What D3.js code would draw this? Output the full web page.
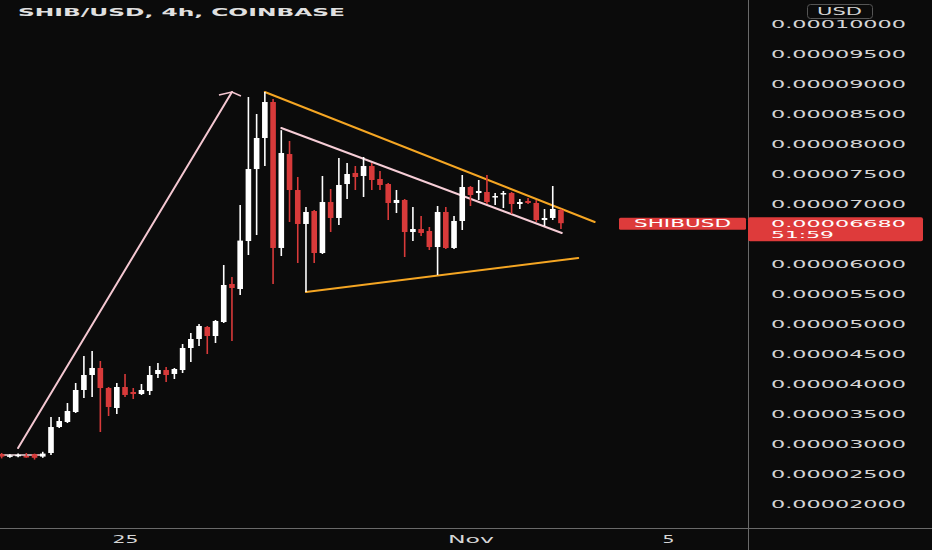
<!DOCTYPE html>
<html><head><meta charset="utf-8">
<script src="https://cdn.jsdelivr.net/npm/d3@7"></script>
<style>html,body{margin:0;padding:0;background:#0b0b0b;overflow:hidden}</style>
</head><body><svg id="c" width="932" height="550"></svg>
<script>
// ---- DATA (prices in units of 1e-8 USD) ----
const UNIT = 1e-8;
const firstCandle = Date.UTC(2021, 9, 22, 12); // Oct 22 12:00 UTC, 4h candles
const STEP = 4 * 3600 * 1000;
const opens  = [2830,2790,2810,2800,2830,2790,
  2850,3283,3367,3533,3900,4150,4267,3933,3600,3950,3867,3833,3883,4167,4233,4167,4233,4600,4750,4950,4800,5033,5667,5583,6383,7583,8100,8700,
  6267,7833,7233,6667,6883,6183,7033,6767,7333,7517,7467,7633,7417,7333,7017,7067,6533,6583,6550,6283,6867,6267,6717,7283,7183,7200,7117,7167,7183,7000,7050,7017,6733,6767,6900];
const highs  = [2850,2830,2840,2850,2840,2870,
  3450,3450,3683,4017,4467,4550,4383,3950,4017,4167,3933,4000,4300,4350,4283,4267,4667,4850,5000,4967,5067,5983,5783,6983,8783,8500,8867,8750,
  8230,8050,7450,6950,6900,7467,7250,7767,7683,7633,7783,7683,7550,7350,7233,7083,6950,6800,6617,6967,6950,6800,7483,7300,7400,7483,7183,7217,7200,7083,7100,7067,6917,7300,6917];
const lows   = [2760,2770,2780,2770,2740,2770,
  2817,3267,3350,3517,3767,3783,3200,3467,3500,3783,3750,3817,3817,4100,4033,4083,4183,4367,4633,4500,4683,5017,4717,5483,6150,6483,7633,5667,
  6133,6700,6017,5533,6017,6167,6533,6650,7083,7233,7117,7233,7233,6733,6850,6117,6383,6467,6233,5817,6250,6250,6567,6967,7067,7000,6983,6933,6833,6917,7000,6700,6633,6733,6583];
const closes = [2790,2810,2820,2780,2770,2840,
  3283,3383,3550,3900,4150,4267,3933,3617,3950,3817,3833,3900,4150,4233,4150,4250,4600,4750,4967,4800,5050,5650,5600,6390,7583,8100,8700,6267,
  7850,7233,6667,6867,6183,7033,6767,7317,7500,7450,7633,7400,7317,7017,7067,6533,6583,6517,6283,6867,6267,6717,7283,7150,7217,7033,7133,7183,7000,7033,7017,6733,6767,6917,6680];
const candleUp = [false,true,true,false,false,true];  // small leading candles' colour

// visible price-axis labels (0.00006500 is hidden under the last-price badge)
const priceTickLabels = ["0.00010000","0.00009500","0.00009000","0.00008500","0.00008000","0.00007500",
  "0.00007000","0.00006000","0.00005500","0.00005000","0.00004500","0.00004000",
  "0.00003500","0.00003000","0.00002500","0.00002000"];
const timeTickDates  = [Date.UTC(2021,9,25), Date.UTC(2021,10,1), Date.UTC(2021,10,5)];
const timeTickLabels = ["25","Nov","5"];

// drawn lines: candle index (from first candle) and price (1e-8)
const lineNames    = ["base","arrow","upperOuter","upperInner","lower"];
const lineStartIdx = [-0.3, 2, 32, 34, 37];
const lineStartVal = [2817, 2933, 8867, 8267, 5533];
const lineEndIdx   = [5, 28, 72.1, 68.1, 70.1];
const lineEndVal   = [2817, 8867, 6700, 6517, 6100];
const lineColors   = ["#f2d6dc","#f4c7d1","#f5a623","#f6cdd6","#f5a623"];

const symbol = "SHIBUSD";
const title = "SHIB/USD, 4h, COINBASE";
const countdown = "51:59";

// ---- LAYOUT ----
const W = 932, H = 550, plotR = 748, plotB = 528;
const svg = d3.select("#c");
svg.append("rect").attr("width",W).attr("height",H).attr("fill","#0b0b0b");

const tAt = k => new Date(firstCandle + k*STEP);
const x = d3.scaleUtc().domain([tAt(-0.2), tAt(90.74)]).range([0, plotR]);
const y = d3.scaleLinear().domain([0.00002, 0.0001]).range([504, 24]);
const val = v => y(v*UNIT);

const RED = "#d83a3a", WHITE = "#ffffff";
const candles = opens.map((o,k)=>({t:tAt(k), o, h:highs[k], l:lows[k], c:closes[k],
  up: k < candleUp.length ? candleUp[k] : closes[k] >= o}));

const plot = svg.append("g");
plot.append("clipPath").attr("id","clip").append("rect").attr("width",plotR).attr("height",plotB);
const pg = plot.append("g").attr("clip-path","url(#clip)");

// lines
const lines = lineNames.map((n,k)=>({n, x1:x(tAt(lineStartIdx[k])), y1:val(lineStartVal[k]),
  x2:x(tAt(lineEndIdx[k])), y2:val(lineEndVal[k]), col:lineColors[k]}));
pg.selectAll("line.tl").data(lines).join("line").attr("class","tl")
  .attr("x1",d=>d.x1).attr("y1",d=>d.y1).attr("x2",d=>d.x2).attr("y2",d=>d.y2)
  .attr("stroke",d=>d.col).attr("stroke-width",d=>d.n==="base"?1.5:2).attr("stroke-linecap","round");
// arrow head on the arrow line
const ar = lines[1];
pg.append("path").attr("d",`M${ar.x2-13},${ar.y2+3}L${ar.x2},${ar.y2}L${ar.x2+9},${ar.y2+4}`)
  .attr("fill","none").attr("stroke",ar.col).attr("stroke-width",1.5);

// candles
const cg = pg.selectAll("g.cd").data(candles).join("g").attr("class","cd");
cg.append("line").attr("x1",d=>x(d.t)).attr("x2",d=>x(d.t)).attr("y1",d=>val(d.h)).attr("y2",d=>val(d.l))
  .attr("stroke",d=>d.up?WHITE:RED).attr("stroke-width",1.6);
cg.append("rect").attr("x",d=>x(d.t)-2.8).attr("width",5.6)
  .attr("y",d=>Math.min(val(d.o),val(d.c)))
  .attr("height",d=>Math.max(1.5,Math.abs(val(d.o)-val(d.c))))
  .attr("fill",d=>d.up?WHITE:RED);

// separators
svg.append("line").attr("x1",plotR+0.5).attr("x2",plotR+0.5).attr("y1",0).attr("y2",H).attr("stroke","#6a6a6a");
svg.append("line").attr("x1",0).attr("x2",W).attr("y1",plotB+0.5).attr("y2",plotB+0.5).attr("stroke","#6a6a6a");

// price axis
const pAxis = d3.axisRight(y).tickValues(priceTickLabels.map(Number))
  .tickFormat((d,i)=>priceTickLabels[i]).tickSize(0).tickPadding(0);
const pa = svg.append("g").attr("transform","translate(771,0)").call(pAxis);
pa.select(".domain").remove();
pa.selectAll("text").attr("fill","#d6d6d6").attr("font-family","DejaVu Sans").attr("font-size",10)
  .attr("dy","0.36em").attr("textLength",135).attr("lengthAdjust","spacingAndGlyphs");

// time axis
const tAxis = d3.axisBottom(x).tickValues(timeTickDates.map(d=>new Date(d)))
  .tickFormat((d,i)=>timeTickLabels[i]).tickSize(0).tickPadding(8);
const ta = svg.append("g").attr("transform",`translate(0,${plotB})`).call(tAxis);
ta.select(".domain").remove();
const tWidths = [26,46,12];
ta.selectAll("text").attr("fill","#d6d6d6").attr("font-family","DejaVu Sans").attr("font-size",10)
  .attr("textLength",(d,i)=>tWidths[i]).attr("lengthAdjust","spacingAndGlyphs");

// USD badge
svg.append("rect").attr("x",807.5).attr("y",4.5).attr("width",65).attr("height",14).attr("rx",3)
  .attr("fill","none").attr("stroke","#555");
svg.append("text").attr("x",817).attr("y",15).text("USD").attr("fill","#d6d6d6")
  .attr("font-family","DejaVu Sans").attr("font-size",10).attr("textLength",45).attr("lengthAdjust","spacingAndGlyphs");

// current price labels
const last = closes[closes.length-1];
const yl = val(last);
svg.append("rect").attr("x",619).attr("y",yl-5.5).attr("width",127).attr("height",12).attr("rx",1.5).attr("fill","#de3b3b");
svg.append("text").attr("x",682.5).attr("y",yl+0.5).attr("dy","0.36em").attr("text-anchor","middle").text(symbol)
  .attr("fill","#fff").attr("font-family","DejaVu Sans").attr("font-size",10).attr("textLength",97).attr("lengthAdjust","spacingAndGlyphs");
svg.append("rect").attr("x",748).attr("y",yl-6).attr("width",175).attr("height",24).attr("rx",2).attr("fill","#de3b3b");
svg.append("text").attr("x",771).attr("y",yl).attr("dy","0.36em").text((last*UNIT).toFixed(8))
  .attr("fill","#fff").attr("font-family","DejaVu Sans").attr("font-size",9.5).attr("textLength",135).attr("lengthAdjust","spacingAndGlyphs");
svg.append("text").attr("x",771).attr("y",yl+11.3).attr("dy","0.36em").text(countdown)
  .attr("fill","#fff").attr("font-family","DejaVu Sans").attr("font-size",9.5).attr("textLength",63).attr("lengthAdjust","spacingAndGlyphs");

// title
svg.append("text").attr("x",18).attr("y",16.3).text(title).attr("fill","#e0e0e0")
  .attr("font-family","DejaVu Sans").attr("font-weight","bold").attr("font-size",10)
  .attr("textLength",327).attr("lengthAdjust","spacingAndGlyphs");
</script></body></html>
